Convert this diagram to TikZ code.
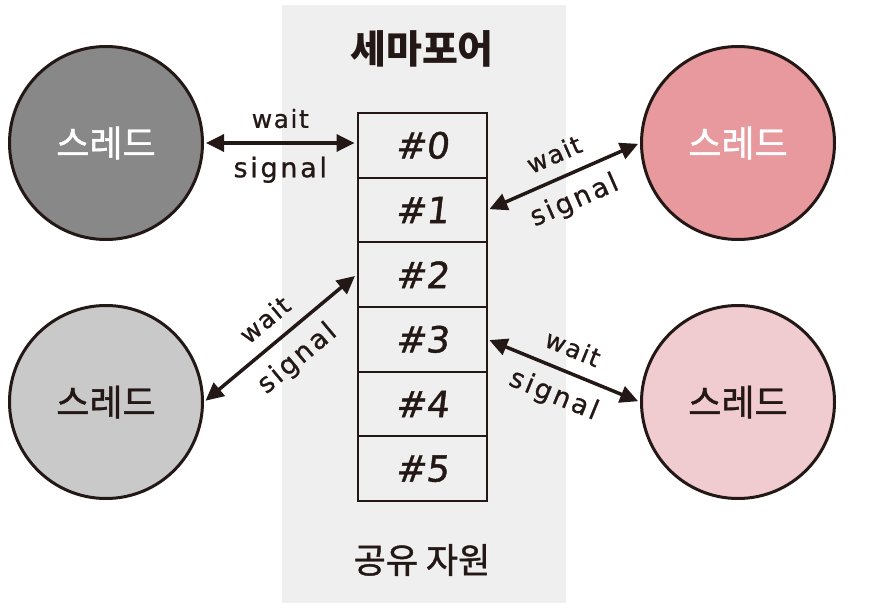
\documentclass[tikz,border=0pt]{standalone}
\usepackage{fontspec}
\setmainfont{Noto Sans CJK KR}
\newfontfamily\heavyko[FakeBold=1.2]{Noto Sans CJK KR}
\newfontfamily\waitfont[LetterSpace=6,FakeBold=0.8]{DejaVu Sans}
\newfontfamily\signalfont[LetterSpace=10,FakeBold=0.8]{DejaVu Sans}
\newfontfamily\numfont[FakeBold=1.2,FakeSlant=0.12]{DejaVu Sans}
\usetikzlibrary{arrows.meta}
\definecolor{ink}{HTML}{231815}
\definecolor{panel}{HTML}{EFEFEF}
\definecolor{tlfill}{HTML}{888888}
\definecolor{blfill}{HTML}{C9C9C9}
\definecolor{trfill}{HTML}{E8999E}
\definecolor{brfill}{HTML}{F0CBCF}
\begin{document}
\begin{tikzpicture}[x=1pt,y=-1pt,
  thread/.style={circle, draw=ink, line width=3pt, minimum size=193pt, inner sep=0pt,
    font=\heavyko\fontsize{36}{36}\selectfont},
  slot/.style={rectangle, draw=ink, line width=2pt, minimum width=129pt,
    minimum height=64.67pt, inner sep=0pt, fill=panel, text=ink,
    font=\numfont\fontsize{36}{36}\selectfont},
  link/.style={draw=ink, line width=3.5pt,
    >={Triangle[length=18pt,width=17pt]}, <->,
    shorten <=2pt, shorten >=2pt},
  waitlbl/.style={font=\waitfont\fontsize{25}{25}\selectfont, text=ink, inner sep=0pt, sloped, midway, above=13pt},
  signallbl/.style={font=\signalfont\fontsize{27}{27}\selectfont, text=ink, inner sep=0pt, sloped, midway, below=12pt},
  title/.style={text=ink, inner sep=0pt}
]
\useasboundingbox (0,0) rectangle (878,612);
\fill[panel] (282,5) rectangle (566,603);

\node[title, font=\bfseries\fontsize{39}{39}\selectfont] (sem) at (422,49) {세마포어};
\node[title, font=\heavyko\fontsize{35}{35}\selectfont] (res) at (422,560) {공유 자원};

\foreach \i in {0,...,5} {
  \node[slot] (b\i) at (422,{113+64.67*(\i+0.5)}) {\#\i};
}

\node[thread, fill=tlfill, text=white] (tl) at (106,143) {스레드};
\node[thread, fill=blfill, text=ink]   (bl) at (106,402) {스레드};
\node[thread, fill=trfill, text=white] (tr) at (738,143) {스레드};
\node[thread, fill=brfill, text=ink]   (br) at (738,402) {스레드};

\draw[link] (tl.east) -- (tl.east -| b0.west)
  node[waitlbl] {wait} node[signallbl] {signal};
\draw[link] (b1.east) -- (tr.west)
  node[waitlbl] {wait} node[signallbl] {signal};
\draw[link] (bl.east) -- (b2.west)
  node[waitlbl] {wait} node[signallbl] {signal};
\draw[link] (b3.east) -- (br.west)
  node[waitlbl] {wait} node[signallbl] {signal};
\end{tikzpicture}
\end{document}
